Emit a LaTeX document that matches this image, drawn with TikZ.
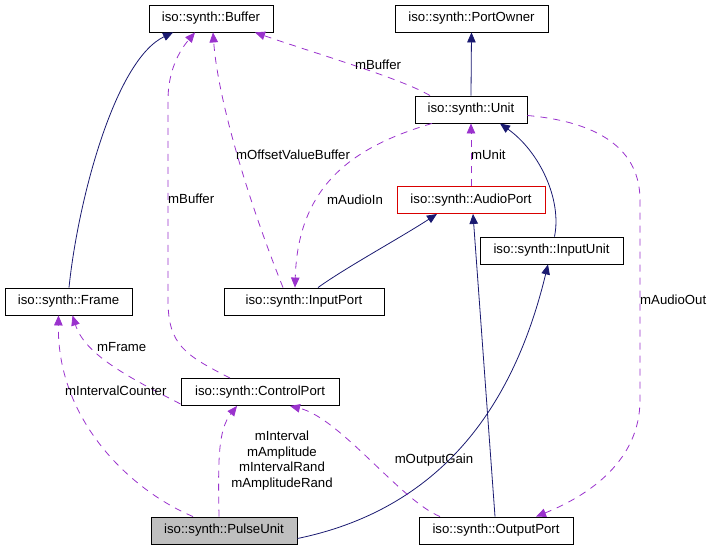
\documentclass[tikz,border=0pt]{standalone}
\usepackage{fontspec}
\setmainfont{Liberation Sans}
\usetikzlibrary{positioning,arrows.meta,calc}
\definecolor{DoxNavy}{HTML}{191970}
\definecolor{DoxPurple}{HTML}{9A32CD}
\definecolor{DoxGray}{HTML}{BFBFBF}

\begin{document}
\begin{tikzpicture}[
  x=1pt, y=-1pt,
  every node/.style={font=\fontsize{13.2}{15.5}\selectfont},
  cls/.style={rectangle, draw=black, line width=0.9pt, minimum height=27pt, inner xsep=8pt, inner ysep=0pt, fill=white},
  clsred/.style={cls, draw=red!85!black},
  clsgray/.style={cls, fill=DoxGray},
  inh/.style={-{Triangle[length=10pt,width=8.5pt]}, draw=DoxNavy, line width=0.8pt},
  usage/.style={-{Triangle[length=10pt,width=8.5pt]}, draw=DoxPurple, line width=0.8pt, dash pattern=on 7pt off 6pt},
  lbl/.style={inner sep=0pt, anchor=west},
  lblc/.style={inner sep=0pt, align=center}
]
\path[use as bounding box] (0,0) rectangle (716,549);

%% classes
\node[cls, minimum width=124pt] (buffer) at (211,18.5) {iso::synth::Buffer};
\node[cls, minimum width=153pt] (portowner) at (471.5,18.5) {iso::synth::PortOwner};
\node[cls, minimum width=112pt] (unit) at (471,109.5) {iso::synth::Unit};
\node[clsred, minimum width=148pt] (audioport) at (471,200) {iso::synth::AudioPort};
\node[cls, minimum width=143pt] (inputunit) at (551.5,250.5) {iso::synth::InputUnit};
\node[cls, minimum width=127pt] (frame) at (68.5,301.5) {iso::synth::Frame};
\node[cls, minimum width=160pt] (inputport) at (304,301.5) {iso::synth::InputPort};
\node[cls, minimum width=158pt] (controlport) at (260,392) {iso::synth::ControlPort};
\node[clsgray, minimum width=146pt] (pulseunit) at (224,530.5) {iso::synth::PulseUnit};
\node[cls, minimum width=154pt] (outputport) at (496,530.5) {iso::synth::OutputPort};

%% inheritance
\draw[inh] ([xshift=0.5pt]frame.north) .. controls (78,200) and (115,60) .. ([xshift=-38pt]buffer.south);
\draw[inh] (unit.north) -- (portowner.south);
\draw[inh] ([xshift=14pt]inputport.north) .. controls (345,268) and (400,238) .. ([xshift=-34pt]audioport.south);
\draw[inh] ([xshift=3pt]inputunit.north) .. controls (562,200) and (540,152) .. ([xshift=29pt]unit.south);
\draw[inh] ([xshift=-1pt]outputport.north) -- ([xshift=2pt]audioport.south);
\draw[inh] ([yshift=-8pt]pulseunit.east) .. controls (460,505) and (520,380) .. ([xshift=-3.5pt]inputunit.south);

%% usage
\draw[usage] ([xshift=-30pt]controlport.north) .. controls (185,355) and (168,345) .. (168,300)
  -- (168,100) .. controls (168,70) and (180,50) .. ([xshift=-16pt]buffer.south);
\node[lbl] (lbuf1) at (168,199) {mBuffer};
\draw[usage] ([xshift=-21pt]inputport.north) .. controls (248,200) and (218,100) .. ([xshift=2pt]buffer.south);
\node[lbl] (loffset) at (236,155) {mOffsetValueBuffer};
\draw[usage] ([xshift=-41pt]unit.north) .. controls (400,78) and (320,55) .. ([xshift=44pt]buffer.south);
\node[lblc] (lbuf2) at (378,65) {mBuffer};
\draw[usage] ([xshift=-39pt]unit.south) .. controls (360,145) and (298,180) .. ([xshift=-9pt]inputport.north);
\node[lbl] (laudioin) at (327,200) {mAudioIn};
\draw[usage] (audioport.north) -- (unit.south);
\node[lbl] (lunit) at (471,155) {mUnit};
\draw[usage] ([yshift=-6pt]unit.east) .. controls (600,122) and (640,150) .. (640,200)
  -- (640,400) .. controls (640,460) and (590,495) .. ([xshift=40pt]outputport.north);
\node[lbl] (laudioout) at (640,300) {mAudioOut};
\draw[usage] ([yshift=-12pt]controlport.west) .. controls (130,378) and (85,355) .. ([xshift=4pt]frame.south);
\node[lbl] (lframe) at (97,347) {mFrame};
\draw[usage] ([xshift=-31pt]pulseunit.north) .. controls (130,490) and (57,420) .. ([xshift=-10pt]frame.south);
\node[lbl] (lcounter) at (65,391) {mIntervalCounter};
\draw[usage] ([xshift=-5pt]pulseunit.north) .. controls (218,460) and (218,430) .. ([xshift=-23pt]controlport.south);
\node[lblc] (lctrl) at (282,460.5) {mInterval\\mAmplitude\\mIntervalRand\\mAmplitudeRand};
\draw[usage] ([xshift=-56pt]outputport.north) .. controls (400,500) and (340,418) .. ([xshift=30pt]controlport.south);
\node[lblc] (lgain) at (434,460) {mOutputGain};
\end{tikzpicture}
\end{document}
